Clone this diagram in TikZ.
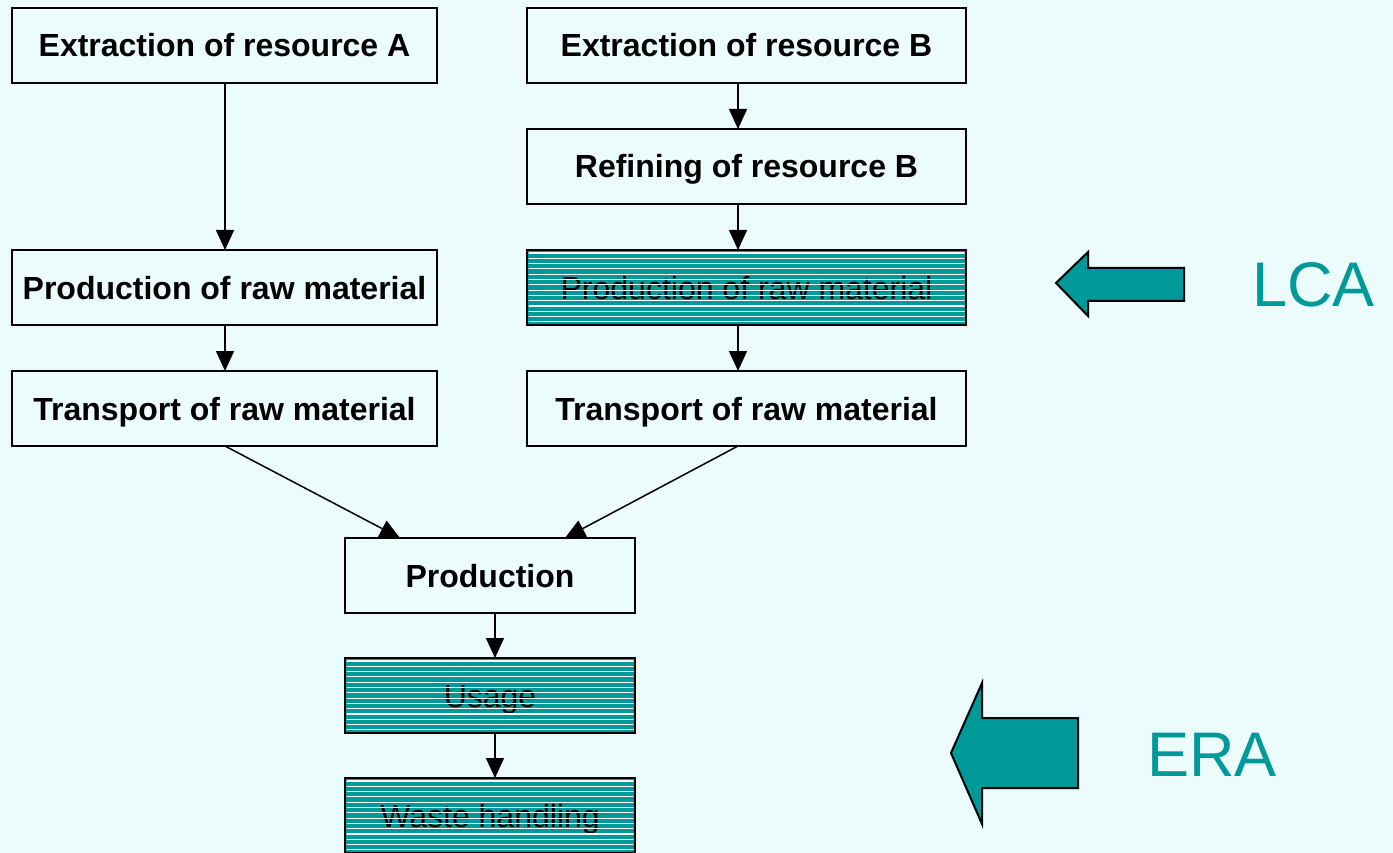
\documentclass[tikz,border=0pt]{standalone}
\usepackage{fontspec}
\setmainfont{Liberation Sans}
\usetikzlibrary{arrows.meta,calc}
\definecolor{bgc}{RGB}{236,252,252}
\definecolor{teal1}{RGB}{0,153,153}
\tikzset{
  box/.style={draw=black, line width=2pt, rectangle, minimum height=75pt, inner sep=0pt, outer sep=0pt,
    text height=23pt, text depth=0pt,
    font=\fontsize{32}{38}\selectfont\bfseries, text=black},
  hbox/.style={draw=black, line width=2pt, rectangle, minimum height=75pt, inner sep=0pt, outer sep=0pt,
    text height=23pt, text depth=0pt,
    fill=teal1, font=\fontsize{32}{38}\selectfont, text=black},
  arr/.style={line width=1.5pt, -{Triangle[length=20pt,width=18pt]}},
  blockarrow/.style={fill=teal1, draw=black, line width=2pt, line join=miter},
  big/.style={font=\fontsize{63}{70}\selectfont, text=teal1, inner sep=0pt}
}
\newcommand{\hatchit}[1]{%
  \begin{scope}
    \clip ($(#1.south west)+(1.5,-1.5)$) rectangle ($(#1.north east)+(-1.5,1.5)$);
    \foreach \i in {0,...,15} {
      \draw[white, line width=1.1pt] ($(#1.north west)+(0,3+\i*5.3)$) -- ($(#1.north east)+(0,3+\i*5.3)$);
    }
  \end{scope}
  \draw[black, line width=2pt] (#1.south west) rectangle (#1.north east);
}
\begin{document}
\begin{tikzpicture}[x=1pt,y=-1pt]
\fill[bgc] (0,0) rectangle (1393,853);
\useasboundingbox (0,0) rectangle (1393,853);

\coordinate (colA) at (225,0);
\coordinate (colB) at (738,0);
\coordinate (colP) at (495,0);

\node[box, minimum width=425pt] (exA) at (224.5,45.5) {Extraction of resource A};
\node[box, minimum width=439pt] (exB) at (746.5,45.5) {Extraction of resource B};
\node[box, minimum width=439pt] (refB) at (746.5,166.5) {Refining of resource B};
\node[box, minimum width=425pt] (prA) at (224.5,287.5) {Production of raw material};
\node[hbox, minimum width=439pt] (prB) at (746.5,287.5) {Production of raw material};
\node[box, minimum width=425pt] (trA) at (224.5,408.5) {Transport of raw material};
\node[box, minimum width=439pt] (trB) at (746.5,408.5) {Transport of raw material};
\node[box, minimum width=290pt] (prod) at (490,575.5) {Production};
\node[hbox, minimum width=290pt] (use) at (490,695.5) {Usage};
\node[hbox, minimum width=290pt] (waste) at (490,815.5) {Waste handling};

\hatchit{prB}
\hatchit{use}
\hatchit{waste}

\draw[arr] (exA.south -| colA) -- (prA.north -| colA);
\draw[arr] (prA.south -| colA) -- (trA.north -| colA);
\draw[arr] (exB.south -| colB) -- (refB.north -| colB);
\draw[arr] (refB.south -| colB) -- (prB.north -| colB);
\draw[arr] (prB.south -| colB) -- (trB.north -| colB);
\coordinate (inA) at (400,538);
\coordinate (inB) at (565,538);
\draw[arr] (trA.south -| colA) -- (inA);
\draw[arr] (trB.south -| colB) -- (inB);
\draw[arr] (prod.south -| colP) -- (use.north -| colP);
\draw[arr] (use.south -| colP) -- (waste.north -| colP);

% LCA block arrow
\draw[blockarrow] (1056,283) -- (1088,252) -- (1088,268) -- (1184,268) -- (1184,301) -- (1088,301) -- (1088,316) -- cycle;
\node[big, anchor=west] (lca) at (1252,285) {LCA};
% ERA block arrow
\draw[blockarrow] (951,753) -- (982,683) -- (982,718) -- (1078,718) -- (1078,788) -- (982,788) -- (982,824) -- cycle;
\node[big, anchor=west] (era) at (1147,755) {ERA};
\end{tikzpicture}
\end{document}
